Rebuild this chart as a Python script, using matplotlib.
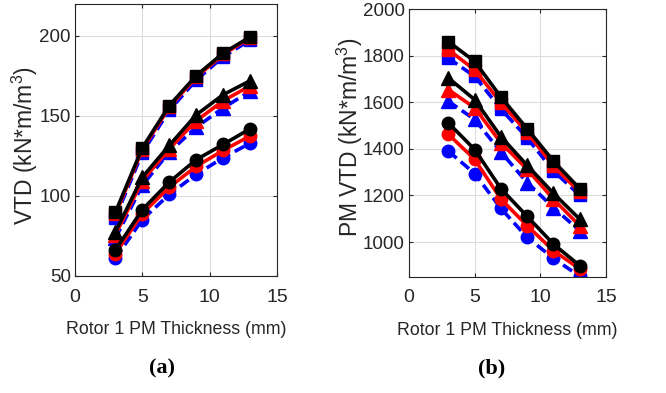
import numpy as np
import matplotlib.pyplot as plt

plt.rcParams['font.family'] = ['Liberation Sans', 'DejaVu Sans']
plt.rcParams['mathtext.fontset'] = 'custom'
plt.rcParams['mathtext.rm'] = 'Liberation Sans'

thickness = [3, 5, 7, 9, 11, 13]

# (a) VTD
vtd_sq_black = [89.8, 130.1, 156.5, 175.2, 189.3, 199.4]
vtd_sq_red = [88.5, 129.0, 155.5, 174.3, 188.5, 198.8]
vtd_sq_blue = [86.5, 127.0, 153.5, 172.5, 187.0, 197.5]
vtd_tri_black = [77.6, 111.8, 131.6, 150.7, 163.3, 172.0]
vtd_tri_red = [75.8, 109.5, 129.5, 147.0, 159.5, 168.8]
vtd_tri_blue = [73.6, 106.7, 127.4, 143.0, 155.0, 165.4]
vtd_cir_black = [66.2, 91.5, 108.7, 122.7, 132.2, 142.0]
vtd_cir_red = [64.0, 89.0, 105.5, 118.5, 128.5, 137.5]
vtd_cir_blue = [61.0, 85.3, 101.0, 113.5, 123.9, 133.0]

# (b) PM VTD
pm_sq_black = [1860, 1775, 1622, 1486, 1347, 1229]
pm_sq_red = [1825, 1739, 1598, 1470, 1326, 1214]
pm_sq_blue = [1789, 1711, 1571, 1447, 1305, 1201]
pm_tri_black = [1704, 1611, 1452, 1329, 1209, 1098]
pm_tri_red = [1654, 1576, 1426, 1312, 1184, 1070]
pm_tri_blue = [1604, 1526, 1386, 1255, 1148, 1048]
pm_cir_black = [1511, 1397, 1229, 1110, 991, 899]
pm_cir_red = [1462, 1355, 1184, 1070, 963, 885]
pm_cir_blue = [1390, 1294, 1144, 1020, 930, 853]

fig = plt.figure(figsize=(6.66, 3.93), dpi=100)
ax1 = fig.add_axes([75 / 666, 1 - 276 / 393, 202 / 666, 272 / 393])
ax2 = fig.add_axes([409 / 666, 1 - 277 / 393, 197 / 666, 268 / 393])

def draw(ax, series):
    for y, color, ls, mk in series:
        ax.plot(thickness, y, color=color, linestyle=ls, marker=mk,
                linewidth=2.6, markersize=9 if mk != '^' else 10,
                dashes=(3, 1.5) if ls == '--' else (None, None))

def style(ax, ylabel, ylim, yticks):
    ax.set_xlim(0, 15)
    ax.set_ylim(*ylim)
    ax.set_xticks([0, 5, 10, 15])
    ax.set_yticks(yticks)
    ax.grid(True, color='#dcdcdc', linewidth=0.8)
    ax.set_axisbelow(True)
    ax.tick_params(direction='in', top=True, right=True, length=3,
                   colors='#262626', width=0.8)
    ax.tick_params(axis='x', labelsize=14, pad=9)
    ax.tick_params(axis='y', labelsize=13.5, pad=3)
    for s in ax.spines.values():
        s.set_color('#262626')
        s.set_linewidth(0.8)
    ax.set_xlabel('Rotor 1 PM Thickness (mm)', fontsize=12.8, color='#262626',
                  labelpad=11)
    ax.set_ylabel(ylabel, fontsize=16.5, color='#262626')

series1 = []
for mk, b, r, k in [('s', vtd_sq_blue, vtd_sq_red, vtd_sq_black),
                    ('^', vtd_tri_blue, vtd_tri_red, vtd_tri_black),
                    ('o', vtd_cir_blue, vtd_cir_red, vtd_cir_black)]:
    series1 += [(b, 'blue', '--', mk), (r, 'red', '-', mk), (k, 'black', '-', mk)]
series2 = []
for mk, b, r, k in [('s', pm_sq_blue, pm_sq_red, pm_sq_black),
                    ('^', pm_tri_blue, pm_tri_red, pm_tri_black),
                    ('o', pm_cir_blue, pm_cir_red, pm_cir_black)]:
    series2 += [(b, 'blue', '--', mk), (r, 'red', '-', mk), (k, 'black', '-', mk)]

# blue first, then red, then black on top
series1.sort(key=lambda s: ['blue', 'red', 'black'].index(s[1]))
series2.sort(key=lambda s: ['blue', 'red', 'black'].index(s[1]))
draw(ax1, series1)
draw(ax2, series2)

style(ax1, 'VTD (kN*m/m$^3$)', (50, 220), [50, 100, 150, 200])
style(ax2, 'PM VTD (kN*m/m$^3$)', (850, 2000), [1000, 1200, 1400, 1600, 1800, 2000])
ax1.yaxis.set_label_coords(-0.172, 0.48)
ax2.yaxis.set_label_coords(-0.225, 0.52)

fig.text(162 / 666, 1 - 368 / 393, '(a)', ha='center', va='center',
         fontsize=16, fontweight='bold', family='Liberation Serif')
fig.text(492 / 666, 1 - 368 / 393, '(b)', ha='center', va='center',
         fontsize=16, fontweight='bold', family='Liberation Serif')

fig.savefig('out.png', dpi=100)
